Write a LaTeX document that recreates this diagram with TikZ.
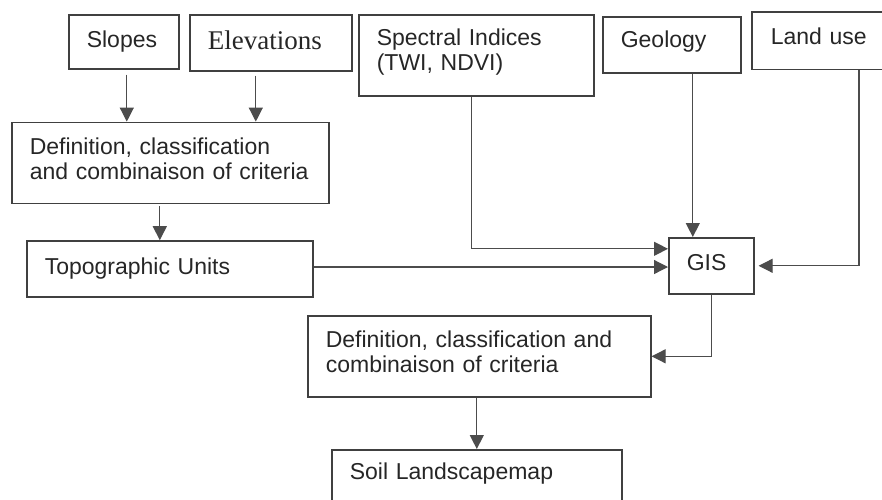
\documentclass[tikz,border=0pt]{standalone}
\usepackage{fontspec}
\setmainfont{Liberation Sans}
\newfontfamily\elevfont{Liberation Serif}
\usetikzlibrary{positioning, arrows.meta}

\begin{document}
\begin{tikzpicture}[
    box/.style={draw=black!75, line width=0.8pt, anchor=north west, align=left, inner xsep=9pt, inner ysep=0pt, text=black!85, font=\fontsize{11.5}{12.5}\selectfont},
    openbox/.style={box, draw=none},
    boxline/.style={draw=black!75, line width=0.8pt},
    arrow/.style={-{Triangle[length=7pt, width=7pt]}, line width=0.6pt, draw=black!70}
]
\useasboundingbox (0,0) rectangle (441pt,-249.5pt);
\clip (0,0) rectangle (441pt,-249.5pt);

\node[box, text width=37pt, text height=16.5pt, text depth=10.5pt] (slopes) at (34pt,-7pt) {Slopes};
\node[box, right=4.7pt of slopes.north east, anchor=north west, text width=63pt, text height=17.5pt, text depth=10.5pt, font=\elevfont\fontsize{13.5}{15}\selectfont] (elev) {Elevations};
\node[box, right=2.7pt of elev.north east, anchor=north west, text width=99.5pt, text height=15.5pt, text depth=25pt] (spectral) {Spectral Indices\\(TWI, NDVI)};
\node[box, right=3.7pt of spectral.north east, anchor=north west, yshift=-1pt, text width=51pt, text height=15.5pt, text depth=12.5pt] (geology) {Geology};
\node[openbox, right=5.2pt of geology.north east, anchor=north west, yshift=2pt, text width=57pt, text height=16pt, text depth=12pt] (landuse) {Land use};
\draw[boxline] ([xshift=120pt]landuse.north west) -- (landuse.north west) -- (landuse.south west) -- ([xshift=120pt]landuse.south west);

\node[box, below=26pt of slopes.south west, anchor=north west, xshift=-28.5pt, text width=140.5pt, text height=16pt, text depth=24.5pt] (crit1) {Definition, classification\\and combinaison of criteria};
\node[box, below=18pt of crit1.south west, anchor=north west, xshift=7.5pt, text width=125pt, text height=16.5pt, text depth=11.5pt] (topo) {Topographic Units};
\node[box, text width=24.5pt, text height=16.5pt, text depth=11.5pt] (gis) at (334pt,-118.5pt) {GIS};
\node[box, text width=153.5pt, text height=16pt, text depth=24.5pt] (crit2) at (153.5pt,-157.5pt) {Definition, classification and\\combinaison of criteria};
\node[box, text width=127pt, text height=15pt, text depth=20pt] (soil) at (165.5pt,-224.5pt) {Soil Landscapemap};

\coordinate (gisin) at ([xshift=-9.25pt]gis.north);

\draw[arrow, shorten <=2.5pt] ([xshift=1.5pt]slopes.south) -- ([xshift=1.5pt]slopes.south |- crit1.north);
\draw[arrow, shorten <=2pt] ([xshift=-7.5pt]elev.south) -- ([xshift=-7.5pt]elev.south |- crit1.north);
\draw[arrow, shorten <=1pt] ([xshift=-5.25pt]crit1.south) -- ([xshift=-5.25pt]crit1.south |- topo.north);
\draw[arrow] ([xshift=-2.25pt]spectral.south) |- ([yshift=8.5pt]gis.west);
\draw[arrow] (geology.south -| gisin) -- (gisin);
\draw[arrow] ([yshift=1pt]topo.east) -- ([yshift=1pt]topo.east -| gis.west);
\draw[arrow, shorten >=2pt] ([xshift=53.5pt]landuse.south west) |- (gis.east);
\draw[arrow] (gis.south) |- (crit2.east);
\draw[arrow] (crit2.south -| soil.north) -- (soil.north);

\end{tikzpicture}
\end{document}
